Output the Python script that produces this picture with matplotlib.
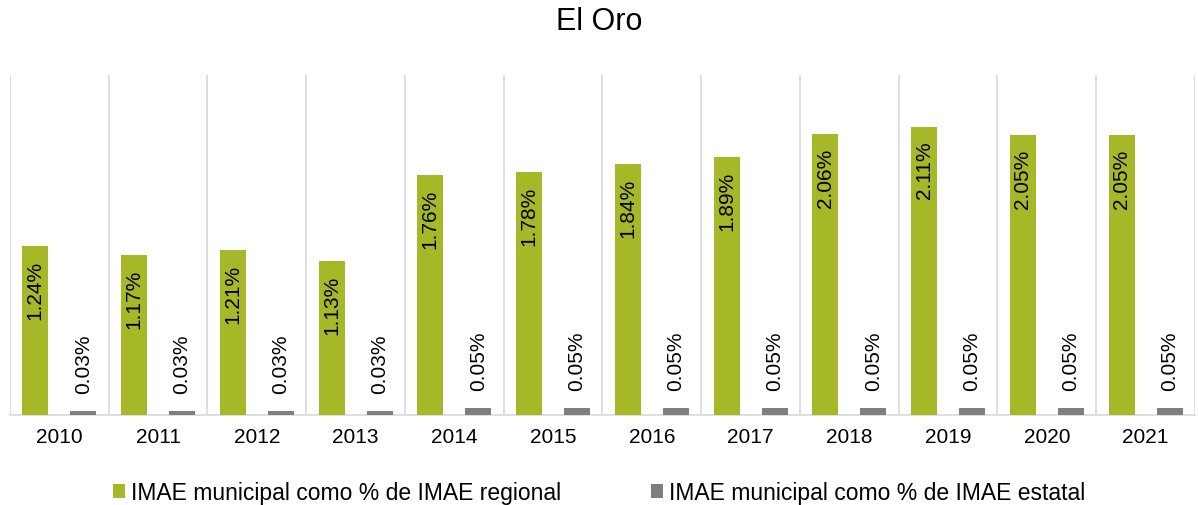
import numpy as np
import matplotlib.pyplot as plt

plt.rcParams['font.family'] = ['Liberation Sans', 'DejaVu Sans']

YEARS = ['2010', '2011', '2012', '2013', '2014', '2015',
         '2016', '2017', '2018', '2019', '2020', '2021']
REGIONAL = [1.24, 1.17, 1.21, 1.13, 1.76, 1.78, 1.84, 1.89, 2.06, 2.11, 2.05, 2.05]
ESTATAL = [0.03, 0.03, 0.03, 0.03, 0.05, 0.05, 0.05, 0.05, 0.05, 0.05, 0.05, 0.05]

GREEN = '#A6B727'
GREY = '#7F7F7F'
GRID = '#D9D9D9'

fig = plt.figure(figsize=(11.98, 5.06), dpi=100)
ax = fig.add_axes([0.0083, 0.178, 0.9892, 0.672])

x = np.arange(len(YEARS))
w = 0.263
b1 = ax.bar(x - 0.243, REGIONAL, w, color=GREEN, zorder=3,
            label='IMAE municipal como % de IMAE regional')
b2 = ax.bar(x + 0.243, ESTATAL, w, color=GREY, zorder=3,
            label='IMAE municipal como % de IMAE estatal')

for xi, v in zip(x - 0.243, REGIONAL):
    ax.annotate(f'{v:.2f}%', (xi, v), xytext=(0, -10), textcoords='offset points',
                rotation=90, ha='center', va='top', fontsize=15, zorder=4)
for xi, v in zip(x + 0.243, ESTATAL):
    ax.annotate(f'{v:.2f}%', (xi, v), xytext=(0, 13), textcoords='offset points',
                rotation=90, ha='center', va='bottom', fontsize=15, zorder=4)

ax.set_xlim(-0.5, len(YEARS) - 0.5)
ax.set_ylim(0, 2.49)
ax.set_yticks([])
ax.set_xticks(x)
ax.set_xticklabels(YEARS, fontsize=15)
ax.tick_params(axis='x', length=0, pad=9)

# category separators
for g in np.arange(-0.5, len(YEARS), 1.0):
    ax.axvline(g, color=GRID, lw=1.2, zorder=1)

for s in ['top', 'left', 'right']:
    ax.spines[s].set_visible(False)
ax.spines['bottom'].set_color(GRID)
ax.spines['bottom'].set_linewidth(1.2)

fig.text(0.5, 0.957, 'El Oro', ha='center', va='center', fontsize=22)

fig.legend(handles=[b1, b2], loc='center', bbox_to_anchor=(0.5, 0.024),
           ncol=2, frameon=False, fontsize=16.5, handlelength=0.55, handleheight=0.55,
           columnspacing=3.9, handletextpad=0.25)

fig.savefig('out.png', dpi=100)
